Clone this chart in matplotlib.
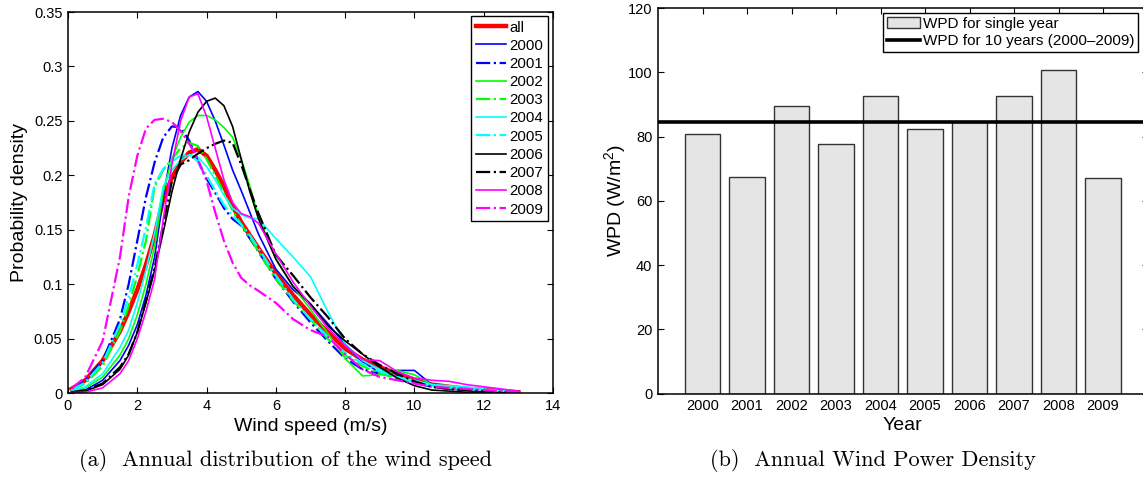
import matplotlib

matplotlib.use("Agg")
import matplotlib.pyplot as plt
from matplotlib.patches import Patch
from matplotlib.lines import Line2D

plt.rcParams["font.family"] = ["Liberation Sans", "DejaVu Sans"]
plt.rcParams["mathtext.fontset"] = "custom"
plt.rcParams["mathtext.rm"] = "Liberation Sans"
plt.rcParams["mathtext.it"] = "Liberation Sans"

speed = [0.1, 0.5, 1.0, 1.5, 1.75, 2.0, 2.25, 2.5, 2.75, 3.0, 3.25, 3.5, 3.75, 4.0, 4.25,
         4.5, 4.75, 5.0, 5.25, 5.5, 6.0, 6.5, 7.0, 7.5, 8.0, 8.5, 9.0, 9.5, 10.0, 10.5,
         11.0, 11.5, 12.0, 12.5, 13.0]

pdf_all = [0.004, 0.012, 0.030, 0.057, 0.075, 0.095, 0.118, 0.145, 0.178, 0.198, 0.212, 0.221,
           0.224, 0.218, 0.205, 0.190, 0.172, 0.157, 0.145, 0.133, 0.110, 0.090, 0.072, 0.056,
           0.041, 0.031, 0.024, 0.018, 0.012, 0.008, 0.006, 0.004, 0.003, 0.002, 0.001]
pdf_2000 = [0.001, 0.003, 0.012, 0.030, 0.044, 0.063, 0.090, 0.125, 0.180, 0.225, 0.255, 0.272,
            0.277, 0.268, 0.250, 0.228, 0.205, 0.186, 0.166, 0.146, 0.114, 0.095, 0.082, 0.064,
            0.045, 0.029, 0.019, 0.021, 0.021, 0.008, 0.004, 0.003, 0.002, 0.001, 0.0005]
pdf_2001 = [0.004, 0.012, 0.030, 0.068, 0.100, 0.140, 0.180, 0.212, 0.235, 0.245, 0.244, 0.232,
            0.213, 0.197, 0.184, 0.170, 0.160, 0.154, 0.142, 0.130, 0.105, 0.084, 0.065, 0.048,
            0.032, 0.022, 0.018, 0.016, 0.010, 0.006, 0.004, 0.003, 0.002, 0.001, 0.0005]
pdf_2002 = [0.002, 0.005, 0.015, 0.035, 0.050, 0.072, 0.100, 0.135, 0.185, 0.215, 0.235, 0.249,
            0.255, 0.255, 0.251, 0.244, 0.235, 0.215, 0.190, 0.162, 0.124, 0.098, 0.077, 0.055,
            0.032, 0.016, 0.017, 0.021, 0.017, 0.008, 0.006, 0.005, 0.003, 0.002, 0.001]
pdf_2003 = [0.003, 0.009, 0.025, 0.057, 0.080, 0.108, 0.140, 0.190, 0.205, 0.215, 0.225, 0.230,
            0.227, 0.215, 0.200, 0.184, 0.168, 0.155, 0.143, 0.130, 0.105, 0.085, 0.068, 0.050,
            0.035, 0.025, 0.018, 0.014, 0.011, 0.007, 0.005, 0.004, 0.003, 0.002, 0.001]
pdf_2004 = [0.002, 0.006, 0.018, 0.042, 0.058, 0.083, 0.113, 0.147, 0.190, 0.205, 0.214, 0.219,
            0.217, 0.208, 0.196, 0.182, 0.170, 0.164, 0.161, 0.160, 0.142, 0.125, 0.107, 0.075,
            0.045, 0.030, 0.022, 0.015, 0.012, 0.008, 0.007, 0.006, 0.004, 0.002, 0.001]
pdf_2005 = [0.003, 0.010, 0.028, 0.063, 0.088, 0.118, 0.152, 0.192, 0.206, 0.213, 0.218, 0.219,
            0.213, 0.200, 0.186, 0.173, 0.163, 0.155, 0.145, 0.133, 0.108, 0.086, 0.068, 0.052,
            0.037, 0.027, 0.020, 0.015, 0.010, 0.007, 0.005, 0.004, 0.003, 0.002, 0.001]
pdf_2006 = [0.001, 0.002, 0.008, 0.022, 0.035, 0.056, 0.083, 0.113, 0.148, 0.185, 0.215, 0.240,
            0.258, 0.268, 0.271, 0.264, 0.245, 0.215, 0.185, 0.160, 0.123, 0.098, 0.082, 0.062,
            0.048, 0.036, 0.024, 0.014, 0.007, 0.003, 0.002, 0.001, 0.001, 0.0005, 0.0]
pdf_2007 = [0.001, 0.003, 0.009, 0.024, 0.036, 0.056, 0.085, 0.115, 0.155, 0.195, 0.210, 0.214,
            0.220, 0.225, 0.229, 0.232, 0.230, 0.210, 0.187, 0.165, 0.127, 0.108, 0.088, 0.070,
            0.050, 0.036, 0.026, 0.018, 0.011, 0.006, 0.004, 0.003, 0.002, 0.001, 0.0005]
pdf_2008 = [0.0005, 0.001, 0.005, 0.018, 0.030, 0.050, 0.075, 0.105, 0.160, 0.210, 0.250, 0.272,
            0.275, 0.254, 0.225, 0.196, 0.175, 0.165, 0.162, 0.156, 0.128, 0.102, 0.080, 0.060,
            0.044, 0.031, 0.030, 0.020, 0.014, 0.012, 0.011, 0.008, 0.006, 0.004, 0.002]
pdf_2009 = [0.004, 0.015, 0.048, 0.125, 0.180, 0.218, 0.243, 0.251, 0.252, 0.249, 0.241, 0.229,
            0.215, 0.195, 0.166, 0.140, 0.120, 0.106, 0.099, 0.094, 0.083, 0.068, 0.058, 0.052,
            0.036, 0.022, 0.015, 0.012, 0.009, 0.006, 0.005, 0.004, 0.003, 0.002, 0.001]

years = [2000, 2001, 2002, 2003, 2004, 2005, 2006, 2007, 2008, 2009]
wpd_year = [80.9, 67.3, 89.5, 77.7, 92.7, 82.4, 84.6, 92.5, 100.6, 67.2]
wpd_decade = 84.6

W, H = 1143, 480
fig = plt.figure(figsize=(W / 100, H / 100), dpi=100)

# left panel: kernel density of wind speed per year
ax1 = fig.add_axes([68 / W, 1 - 393.3 / H, (553 - 68) / W, (393.3 - 12) / H])
series = [
    ("all", pdf_all, "#ff0000", "-", 3.2),
    ("2000", pdf_2000, "#0000ff", "-", 1.2),
    ("2001", pdf_2001, "#0000ff", "-.", 1.6),
    ("2002", pdf_2002, "#00ff00", "-", 1.2),
    ("2003", pdf_2003, "#00ff00", "-.", 1.6),
    ("2004", pdf_2004, "#00ffff", "-", 1.2),
    ("2005", pdf_2005, "#00ffff", "-.", 1.6),
    ("2006", pdf_2006, "#000000", "-", 1.2),
    ("2007", pdf_2007, "#000000", "-.", 1.6),
    ("2008", pdf_2008, "#ff00ff", "-", 1.2),
    ("2009", pdf_2009, "#ff00ff", "-.", 1.6),
]
for label, vals, color, ls, lw in series:
    ax1.plot(speed, vals, color=color, ls=ls, lw=lw, label=label)

ax1.set_xlim(0, 14)
ax1.set_ylim(0, 0.35)
ax1.set_xticks(range(0, 15, 2))
yt = [0, 0.05, 0.1, 0.15, 0.2, 0.25, 0.3, 0.35]
ax1.set_yticks(yt)
ax1.set_yticklabels(["0", "0.05", "0.1", "0.15", "0.2", "0.25", "0.3", "0.35"])
ax1.set_xlabel("Wind speed (m/s)", fontsize=14, labelpad=4)
ax1.set_ylabel("Probability density", fontsize=14, labelpad=4)
ax1.legend(loc="upper right", bbox_to_anchor=(548 / W, 1 - 16 / H),
           bbox_transform=fig.transFigure, fontsize=10.8, fancybox=False,
           edgecolor="black", framealpha=1, handlelength=2.0, handletextpad=0.25,
           labelspacing=0.28, borderpad=0.3, borderaxespad=0)

# right panel: annual wind power density
ax2 = fig.add_axes([658 / W, 1 - 393.7 / H, (1147.6 - 658) / W, (393.7 - 8) / H])
ax2.bar(years, wpd_year, width=0.8, color="#e5e5e5", edgecolor="#333333", lw=1.0)
ax2.axhline(wpd_decade, color="black", lw=2.6)
ax2.set_xlim(1999, 2010)
ax2.set_ylim(0, 120)
ax2.set_xticks(years)
ax2.set_yticks(range(0, 121, 20))
ax2.set_xlabel("Year", fontsize=14, labelpad=3)
ax2.set_ylabel(r"WPD (W/m$^2$)", fontsize=14, labelpad=0)
handles = [Patch(facecolor="#e5e5e5", edgecolor="#333333", lw=1.0),
           Line2D([], [], color="black", lw=2.6)]
ax2.legend(handles, ["WPD for single year", "WPD for 10 years (2000\u20132009)"],
           loc="upper right", bbox_to_anchor=(1138 / W, 1 - 13 / H),
           bbox_transform=fig.transFigure, fontsize=11, fancybox=False,
           edgecolor="black", framealpha=1, handlelength=2.2, handletextpad=0.15,
           labelspacing=0.2, borderpad=0.25, borderaxespad=0)

for ax in (ax1, ax2):
    ax.tick_params(direction="in", top=True, right=True, length=4, width=0.8,
                   labelsize=10.5, pad=4)
    for sp in ax.spines.values():
        sp.set_linewidth(1.1)
# bars hide the bottom year ticks in the original
ax2.tick_params(axis="x", bottom=False)

fig.text(286 / W, 1 - 461 / H, "(a)  Annual distribution of the wind speed",
         family="cmr10", fontsize=16, ha="center", va="center")
fig.text(873 / W, 1 - 461 / H, "(b)  Annual Wind Power Density",
         family="cmr10", fontsize=16, ha="center", va="center")

fig.savefig("out.png", dpi=100)
